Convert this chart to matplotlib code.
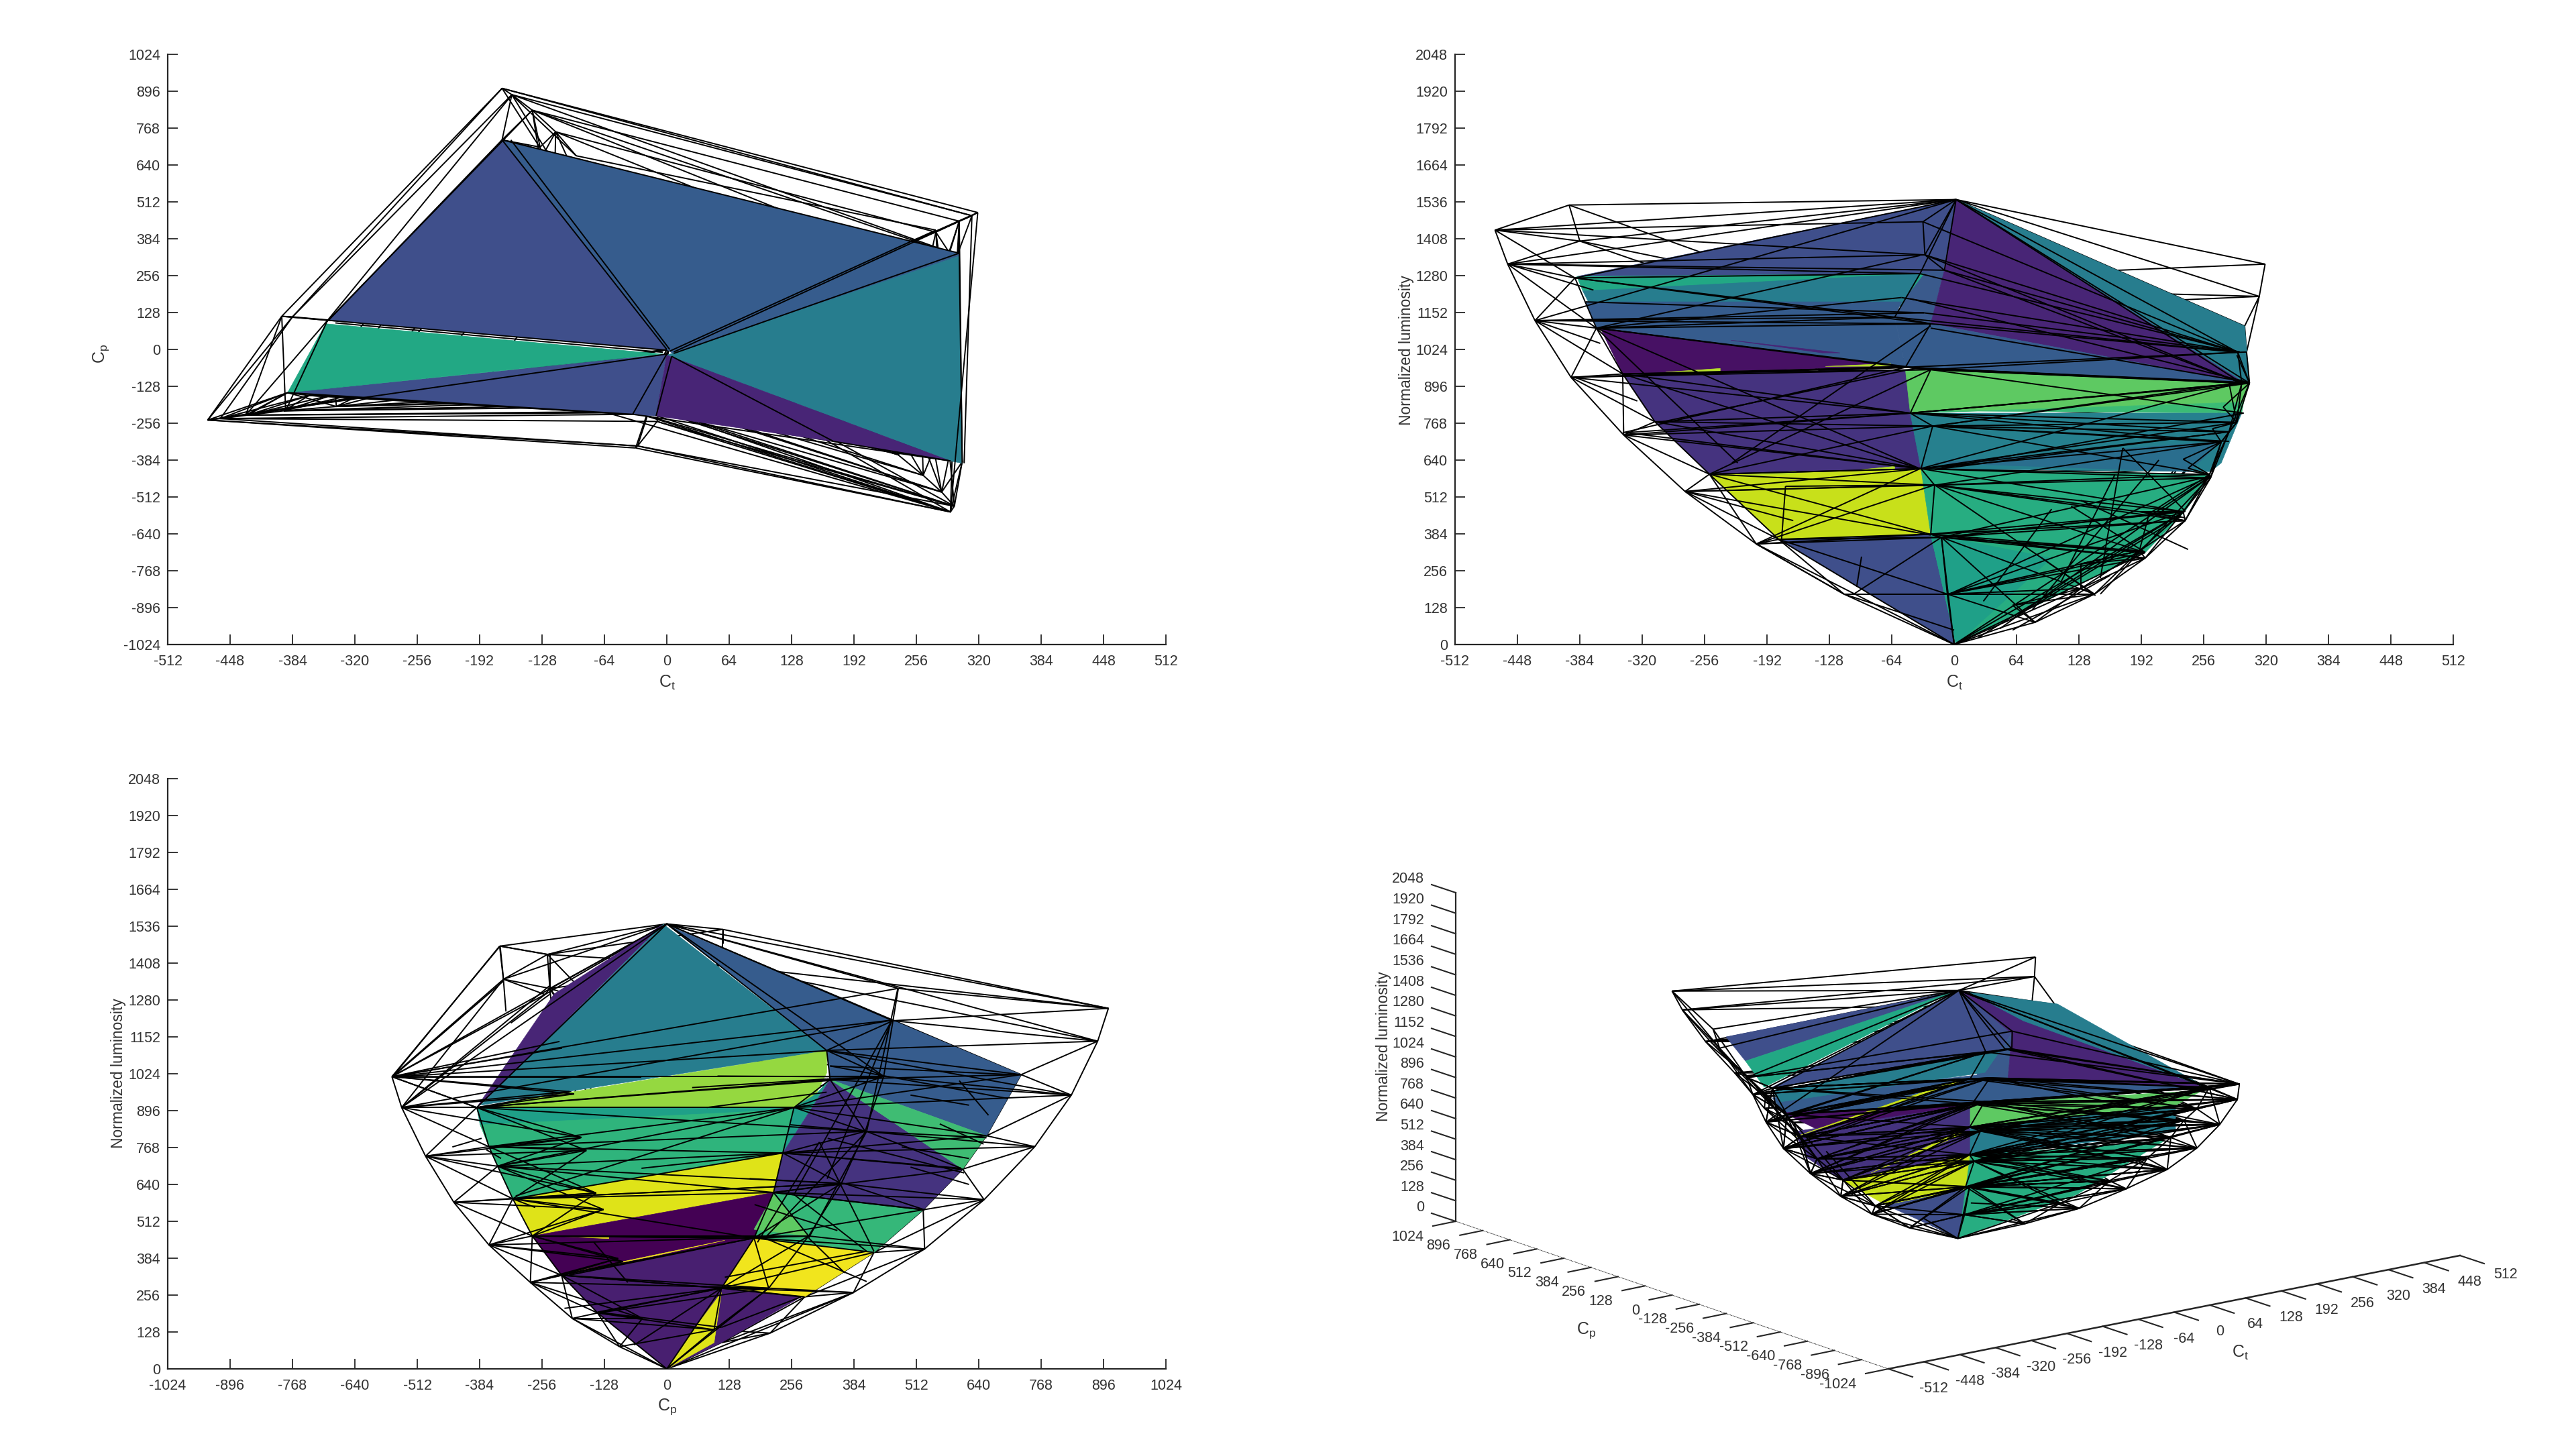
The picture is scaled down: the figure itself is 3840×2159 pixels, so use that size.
import matplotlib
matplotlib.use("Agg")
import matplotlib.pyplot as plt
from matplotlib.collections import LineCollection
from matplotlib.patches import Polygon

plt.rcParams['font.family'] = ['Liberation Sans', 'DejaVu Sans']
plt.rcParams['mathtext.default'] = 'regular'
plt.rcParams['axes.unicode_minus'] = False

W, H = 3840, 2159
ct_ticks = list(range(-512, 513, 64))
cp_ticks = list(range(-1024, 1025, 128))
lum_ticks = list(range(0, 2049, 128))

# (Ct, Cp, luminosity) of the mesh nodes, read from the three flat views
top = (2, 0, 1544)
black = (0, 0, 0)
out_red = [(83,-97,77),(144,-194,175),(196,-280,300),(237,-365,430),(263,-437,578),(282,-495,738),(295,-544,907),(291,-564,1014)]
out_a = [(-113,-70,175),(-203,-130,349),(-276,-175,531),(-339,-198,727),(-393,-213,927),(-430,-228,1124),(-458,-240,1320),(-471,-245,1438)]
out_blue = [(-32,212,124),(-58,383,265),(-80,529,416),(-100,651,587),(-114,755,771),(-138,830,950),(-159,884,1137),(-169,906,1251)]
out_c = [(60,97,136),(130,209,280),(190,291,461),(235,358,643),(276,407,824),(300,445,1015),(313,464,1208),(319,475,1320)]
out_d = [(-10,-250,1299),(-30,-335,1352),(-32,-342,1467)]
out_e = [(-384,113,1400),(-395,115,1525)]
in_l = [(-180,-85,365),(-251,-120,591),(-307,-145,773),(-340,-155,939),(-367,-160,1098),(-389,-150,1272)]
in_r = [(130,-142,194),(190,-216,325),(235,-276,461),(262,-316,590),(274,-347,703),(290,-365,771),(303,-390,907)]
in_b = [(-20,112,91),(-50,283,250),(-75,425,404),(-95,526,552),(-115,607,693),(-130,656,809),(-169,727,1021)]
in_c = [(130,112,280),(200,179,454),(240,219,612),(265,238,749),(282,261,907),(290,335,1004),(298,328,1105)]
in_d = [(-7,-50,175),(-13,-90,372),(-24,-100,383),(-20,-130,553),(-34,-145,610),(-22,-165,758),(-45,-175,803),(-24,-190,954),(-50,-200,962),(-24,-215,1113),(-61,-220,1136),(-35,-225,1287)]

# which curves are joined, and how far apart in luminosity a link may reach
links = [
    (out_red, in_r, 190), (out_a, in_l, 230), (out_blue, in_b, 190), (out_c, in_c, 190),
    (out_a, out_d, 120), (out_a, out_e, 130), (out_a, in_d, 130), (out_red, in_d, 130),
    (out_red, out_c, 60), (out_red, out_d, 460), (out_c, out_blue, 100), (out_blue, out_e, 290),
    (in_l, in_d, 170), (in_d, in_r, 170), (in_r, in_c, 150), (in_c, in_b, 150), (in_b, in_l, 100),
    (out_c, in_r, 120), (out_blue, in_c, 120),
]
links4 = [(out_red, in_d, 380), (in_r, in_d, 380), (out_a, in_l, 380), (in_l, in_d, 330), (out_a, in_d, 300)]
top_fan = [out_red[-1], out_red[-2], out_a[-1], out_a[-2], out_a[-3], out_e[0], out_e[1], out_blue[-1], out_blue[-2],
           out_c[-1], out_c[-2], out_c[-3], in_l[-1], in_r[-1], in_c[-1], in_b[-1], out_d[0], out_d[1], out_d[2], in_d[-1]]
bottom_fan = [out_red[0], out_red[1], out_a[0], out_a[1], out_blue[0], out_blue[1], out_c[0], out_c[1],
              in_l[0], in_r[0], in_b[0], in_c[0], in_d[0], in_d[1]]
curves = [out_red, out_a, out_blue, out_c, out_d, out_e, in_l, in_r, in_b, in_c, in_d]

# filled faces, one list per view
faces1 = [
    [(-169,727),(-347,101),(0,0)],
    [(-389,-150),(-35,-225),(-11,-231),(0,-16)],
    [(-169,727),(300,334),(300,324),(7,-16),(0,0)],
    [(0,-20),(300,324),(303,-395),(291,-387)],
    [(-350,89),(-4,-16),(-389,-150)],
    [(0,-20),(291,-387),(171,-319),(-11,-231)],
]
colors1 = ['#3f4f8b', '#3f4f8b', '#365c8d', '#277d8e', '#22a884', '#482576']
# lines lying on top of the faces, and the extra wires round the hull
over1 = [((-169,727),(0,0)),((-160,727),(3,0)),((300,445),(7,-9)),((276,414),(3,-6)),((300,334),(7,-14)),((-347,101),(0,-3)),
         ((-340,92),(-4,-10)),((0,-16),(-471,-245)),((0,-16),(-35,-225)),((5,-24),(-11,-231)),((5,-24),(171,-319)),
         ((171,-319),(291,-387)),((-389,-150),(-35,-225)),((-35,-225),(291,-387)),((-169,727),(300,334)),((-347,101),(-169,727)),
         ((-395,115),(-348,101)),((-159,883),(-348,101)),((-138,830),(-350,92)),((-395,115),(-432,-228)),((-395,115),(-391,-213)),
         ((-348,101),(-391,-213)),((-348,101),(-432,-228)),((-389,-150),(-432,-228)),((-389,-150),(-339,-198)),
         ((-159,883),(-93,672)),((-114,755),(-93,672)),((-138,830),(-130,702)),((-114,755),(-130,702)),((-169,727),(-130,702)),
         ((276,414),(-93,672)),((300,445),(300,334)),((319,475),(291,-564)),((313,464),(305,-395)),((300,334),(303,-395))]

faces2 = [
    [(2,1544),(-387,1277),(-31,1287),(-11,1295)],
    [(-35,1290),(-10,1299),(-24,1113),(-61,1136)],
    [(2,1544),(298,909),(-24,1113),(-10,1299)],
    [(2,1544),(298,1105),(303,909),(298,909)],
    [(-387,1277),(-31,1287),(-50,1204),(-381,1227)],
    [(-381,1227),(-35,1287),(-54,1174),(-374,1181)],
    [(-378,1189),(-54,1189),(-61,1136),(-50,962),(-367,1098)],
    [(-61,1136),(-24,1113),(298,909),(-24,954),(-50,962)],
    [(-363,1098),(-54,965),(-340,939)],
    [(-340,939),(-48,954),(-43,803),(-34,610),(-251,591),(-307,773)],
    [(-251,591),(-34,610),(-24,383),(-180,365)],
    [(-180,365),(-24,383),(-7,175),(0,0)],
    [(-24,954),(303,909),(297,841),(-45,803),(-50,954)],
    [(-45,803),(297,841),(295,803),(-22,811)],
    [(-45,803),(295,803),(274,630),(263,600),(-34,610)],
    [(-20,630),(241,600),(274,705)],
    [(-34,610),(263,591),(237,463),(196,319),(2,0),(-24,383)],
    [(-24,383),(100,300),(2,0)],
    [(-296,945),(-240,958),(-240,948)],
    [(-132,965),(-65,975),(-65,966)],
    [(-229,584),(-162,602),(-162,592)],
    [(-95,607),(-61,618),(-61,608)],
    [(-229,1056),(-117,1012),(-135,1012)],
]
colors2 = ['#3f4f8b', '#3a5a8c', '#482576', '#277d8e', '#22a884', '#277d8e', '#365c8d', '#365c8d', '#471164', '#45337f',
           '#c8e01a', '#3f4f8b', '#5ec962', '#3bbb75', '#26808e', '#2a6e8e', '#27ad81', '#1fa088',
           '#b5de2b', '#b5de2b', '#b5de2b', '#b5de2b', '#482576']
chords2 = [
    ((0,0),(263,584)),((0,0),(237,463)),((0,0),(196,319)),((-13,372),(263,584)),((-13,372),(237,463)),((-13,372),(196,319)),
    ((-5,175),(237,463)),((-5,175),(196,319)),((-5,175),(263,584)),((-20,554),(196,319)),((-20,554),(237,440)),((-20,554),(144,175)),
    ((-13,372),(144,175)),((-13,372),(83,77)),((173,682),(150,230)),((150,175),(263,584)),((47,55),(263,584)),((25,25),(237,463)),
    ((-251,591),(-35,610)),((-276,531),(-20,554)),((-276,531),(-165,430)),((-203,349),(-20,554)),((-177,365),(-173,549)),
    ((-203,349),(-35,610)),((-251,591),(-13,372)),((-276,531),(-24,380)),((-173,549),(-20,554)),((-337,735),(-35,610)),
    ((-337,735),(-45,803)),((-389,927),(-54,965)),((-389,927),(-325,845)),((-389,927),(-258,940)),((-299,773),(-35,962)),
    ((-251,591),(-24,954)),((-228,630),(-24,1106)),((-340,939),(-35,610)),((-340,735),(-50,962)),((-367,1098),(-35,610)),
    ((-367,1098),(-222,630)),((-430,1124),(-31,1151)),((-430,1124),(-363,1045)),((-458,1320),(-370,1230)),((-378,1189),(-31,1151)),
    ((-367,1098),(-35,1350)),((-367,1098),(-54,1204)),((-50,962),(303,909)),((-45,803),(303,909)),((-24,954),(297,803)),
    ((-20,758),(293,909)),((-35,610),(293,909)),((-20,758),(282,705)),((-20,607),(297,803)),((-20,607),(274,735)),
    ((-31,1151),(293,1015)),((-54,1204),(293,1015)),((-24,1098),(303,909)),((-35,1287),(293,1015)),((-45,1200),(303,909)),
    ((173,682),(237,463)),((-100,200),(-95,305)),((-103,175),(-13,372)),((-180,365),(-7,175)),((60,90),(233,445)),
    ((90,300),(145,170)),((120,480),(196,320)),((165,590),(110,220)),((210,640),(80,120)),((240,330),(130,500)),
    ((30,150),(100,470)),((60,50),(160,240)),((-203,349),(-113,175)),((-251,591),(-203,349)),((-113,175),(0,50)),
]

faces3 = [
    [(-10,1540),(-231,1301),(-390,907),(-350,968)],
    [(-7,1543),(-350,968),(-382,915),(328,1104)],
    [(7,1535),(727,1021),(656,809),(335,1004),(328,1104)],
    [(-390,907),(328,1104),(328,1027),(306,953),(261,907)],
    [(261,907),(306,953),(335,1006),(238,749)],
    [(-383,847),(-390,907),(261,907),(246,847)],
    [(-383,847),(261,900),(238,749),(-316,590),(-347,703),(-365,771)],
    [(-316,590),(238,749),(219,612),(-276,461)],
    [(-276,461),(219,612),(179,454),(-216,325)],
    [(-216,325),(179,454),(112,280),(276,250),(112,91),(0,0),(-142,194)],
    [(335,1004),(607,693),(526,552),(219,612),(238,749)],
    [(335,1004),(656,809),(607,693)],
    [(219,612),(526,552),(425,404),(179,454)],
    [(219,605),(291,461),(179,484)],
    [(179,454),(425,404),(283,250),(112,280)],
    [(45,113),(112,265),(97,91),(0,0)],
    [(-201,333),(119,446),(-22,393)],
    [(-246,462),(-119,458),(-119,452)],
]
colors3 = ['#482576', '#277d8e', '#365c8d', '#95d840', '#1f9e89', '#1fa088', '#2fb47c', '#dfe318', '#440154', '#481f70',
           '#45337f', '#3fbc73', '#35b779', '#5ec962', '#f1e51d', '#dfe318', '#f1e51d', '#f1e51d']
chords3 = [
    ((-544,907),(462,1210)),((-563,1013),(462,1210)),((-563,1013),(474,1320)),((-563,1013),(-52,1013)),((-563,1013),(328,1104)),
    ((328,1104),(830,950)),((335,1051),(708,1021)),((335,1051),(700,938)),((437,1013),(328,1006)),((104,1016),(437,1013)),
    ((52,976),(328,1006)),((82,907),(328,960)),((474,1320),(410,824)),((462,1210),(261,605)),((462,1210),(329,660)),
    ((-316,590),(238,749)),((-350,703),(261,907)),((-52,696),(238,749)),((261,907),(-310,600)),((604,696),(238,749)),
    ((410,824),(604,696)),((410,824),(656,802)),((410,824),(253,847)),((365,643),(529,552)),((365,643),(-316,590)),
    ((365,643),(170,660)),((313,787),(425,408)),((313,787),(186,439)),((410,824),(201,454)),((261,605),(410,408)),
    ((410,824),(291,454)),((201,454),(410,303)),((-276,461),(179,454)),((-201,325),(179,454)),((-216,325),(112,280)),
    ((-142,197),(112,280)),((-142,197),(112,144)),((-67,83),(112,280)),((291,454),(365,333)),((219,612),(529,552)),
    ((119,318),(410,408)),((112,280),(276,250)),((112,144),(276,250)),((-563,1013),(-390,907)),((-544,907),(-240,1330)),
    ((-343,1467),(-240,1437)),((-343,1467),(-335,1346)),((-240,1437),(-240,1300)),((-343,1467),(-563,1013)),((-335,1346),(-563,1013)),
    ((-330,1240),(-335,1346)),((-240,1300),(-320,1200)),((115,1525),(115,1476)),((-316,590),(-270,560)),((-340,730),(-370,760)),
    ((500,950),(620,915)),((600,1000),(660,880)),((560,850),(650,780)),((482,770),(620,730)),((500,700),(620,640)),
    ((-440,770),(-380,800)),((-210,210),(112,280)),((-150,440),(-80,300)),((180,570),(350,480)),((330,800),(610,680)),
]

# the perspective view is kept in reference pixel units
faces4 = [
    [(2573,1546),(2920,1477),(2602,1582)],
    [(2923,1477),(2636,1624),(2982,1565),(2999,1541)],
    [(2982,1565),(2999,1541),(2993,1612),(2948,1599),(2959,1599)],
    [(2908,1480),(2602,1582),(2630,1621)],
    [(2923,1477),(3283,1621),(2993,1612),(2999,1541)],
    [(2937,1480),(3067,1497),(3288,1621),(3016,1522)],
    [(2988,1612),(3283,1621),(2937,1646),(2948,1599)],
    [(2642,1637),(2982,1599),(2937,1648),(2664,1665)],
    [(2642,1626),(2982,1566),(2959,1599),(2653,1643)],
    [(2659,1659),(2937,1648),(2721,1690)],
    [(2676,1687),(2937,1648),(2937,1723),(2744,1759),(2693,1726)],
    [(2744,1759),(2937,1723),(2937,1772),(2812,1797)],
    [(2812,1797),(2937,1772),(2920,1846)],
    [(2937,1646),(3283,1626),(3243,1648),(2937,1681)],
    [(2937,1681),(3243,1648),(3243,1687),(2982,1720),(2937,1723)],
    [(2937,1723),(3226,1701),(3096,1781),(2920,1846)],
    [(2676,1695),(2925,1608),(2925,1614)],
    [(2789,1749),(2925,1685),(2925,1691)],
]
colors4 = ['#3f4f8b', '#3f4f8b', '#3a5a8c', '#22a884', '#482576', '#277d8e', '#365c8d', '#365c8d', '#277d8e', '#471164',
           '#45337f', '#c8e01a', '#3f4f8b', '#5ec962', '#277d8e', '#27ad81', '#c8e01a', '#c8e01a']

INK = '#262626'
TXT = '#333333'


def join(pairs):
    out = []
    for a, b, reach in pairs:
        for p in a:
            for q in b:
                if abs(p[2] - q[2]) < reach:
                    out.append((p, q))
    return out


edges = []
for c in curves:
    edges += list(zip(c[:-1], c[1:]))
edges += join(links)
edges += [(top, p) for p in top_fan] + [(black, p) for p in bottom_fan]
edges4 = edges + join(links4)


def frac_box(x0, x1, y0, y1):
    return [x0 / W, 1 - y1 / H, (x1 - x0) / W, (y1 - y0) / H]


def flat_panel(box, xt, yt, xlab, ylab, ylab_x, xlab_x, xlab_y):
    ax = fig.add_axes(frac_box(*box))
    ax.set_xlim(xt[0], xt[-1])
    ax.set_ylim(yt[0], yt[-1])
    ax.set_xticks(xt)
    ax.set_yticks(yt)
    ax.spines[['top', 'right']].set_visible(False)
    ax.spines[['left', 'bottom']].set_linewidth(1.6)
    ax.spines[['left', 'bottom']].set_color(INK)
    ax.tick_params(axis='x', direction='in', length=11, width=1.3, color=INK, labelsize=15.5, pad=11, labelcolor=TXT)
    ax.tick_params(axis='y', direction='in', length=11, width=1.3, color=INK, labelsize=15.5, pad=8, labelcolor=TXT)
    fig.text(xlab_x / W, 1 - xlab_y / H, xlab, fontsize=18, color=TXT, ha='center', va='center')
    fig.text(ylab_x[0] / W, 1 - ylab_x[1] / H, ylab, fontsize=16.5 if len(ylab) > 6 else 18, color=TXT,
             rotation=90, ha='center', va='center')
    return ax


def draw_wire(ax, pick, front, over_lines=(), mesh=None):
    back_s, front_s = [], []
    for p, q in (mesh or edges):
        seg = [pick(p), pick(q)]
        (front_s if front(p, q) else back_s).append(seg)
    ax.add_collection(LineCollection(back_s, colors='black', linewidths=1.4, zorder=1))
    ax.add_collection(LineCollection(front_s + list(over_lines), colors='black', linewidths=1.4, zorder=3))


def draw_faces(ax, faces, colors):
    for f, col in zip(faces, colors):
        ax.add_patch(Polygon(f, closed=True, facecolor=col, edgecolor=col, linewidth=0.5, zorder=2))


fig = plt.figure(figsize=(W / 100, H / 100), dpi=100, facecolor='white')

ax1 = flat_panel((250, 1738, 81, 961), ct_ticks, cp_ticks, r'C$_t$', r'C$_p$', (151, 527), 995, 1018)
draw_faces(ax1, faces1, colors1)
draw_wire(ax1, lambda n: (n[0], n[1]), lambda p, q: False, over1)

ax2 = flat_panel((2169, 3657, 81, 961), ct_ticks, lum_ticks, r'C$_t$', 'Normalized luminosity', (2097, 522), 2914, 1018)
draw_faces(ax2, faces2, colors2)
draw_wire(ax2, lambda n: (n[0], n[2]), lambda p, q: p[1] + q[1] < 60, chords2)

ax3 = flat_panel((250, 1738, 1161, 2041), cp_ticks, lum_ticks, r'C$_p$', 'Normalized luminosity', (176, 1600), 995, 2098)
draw_faces(ax3, faces3, colors3)
draw_wire(ax3, lambda n: (n[1], n[2]), lambda p, q: p[0] + q[0] > 40, chords3)

# perspective panel: a plain axes in pixel units, mesh nodes projected onto it
origin = (2815, 2041)
ct_step = (852 / 1024, -169 / 1024)
cp_step = (-645 / 2048, -220 / 2048)
lum_step = (0, -490 / 2048)


def project(ct, cp, lum):
    x = origin[0] + (ct + 512) * ct_step[0] + (cp + 1024) * cp_step[0] + lum * lum_step[0]
    y = origin[1] + (ct + 512) * ct_step[1] + (cp + 1024) * cp_step[1] + lum * lum_step[1]
    return x, y


ax4 = fig.add_axes([0, 0, 1, 1])
ax4.set_xlim(0, W)
ax4.set_ylim(H, 0)
ax4.axis('off')
ax4.patch.set_alpha(0)
draw_faces(ax4, faces4, colors4)
draw_wire(ax4, lambda n: project(*n), lambda p, q: p[1] + q[1] + p[0] + q[0] < 120, mesh=edges4)

ct_a, ct_b = project(-512, -1024, 0), project(512, -1024, 0)
cp_a, cp_b = project(-512, -1024, 0), project(-512, 1024, 0)
z_a, z_b = project(-512, 1024, 0), project(-512, 1024, 2048)
ax4.plot([ct_a[0], ct_b[0]], [ct_a[1], ct_b[1]], color=INK, lw=1.8, zorder=4)
ax4.plot([z_a[0], z_b[0]], [z_a[1], z_b[1]], color=INK, lw=1.6, zorder=4)
ax4.plot([cp_a[0], cp_b[0]], [cp_a[1], cp_b[1]], color=INK, lw=0.7, ls=(0, (1.5, 0.8)), zorder=4)
for v in ct_ticks:
    x, y = project(v, -1024, 0)
    ax4.plot([x, x + 36], [y, y + 12], color=INK, lw=1.5, zorder=4)
    ax4.text(x + 68, y + 29, str(v), fontsize=15.5, color=TXT, ha='center', va='center')
for v in cp_ticks:
    x, y = project(-512, v, 0)
    ax4.plot([x, x - 34], [y, y + 7], color=INK, lw=1.5, zorder=4)
    ax4.text(x - 48, y + 23, str(v), fontsize=15.5, color=TXT, ha='right', va='center')
for v in lum_ticks:
    x, y = project(-512, 1024, v)
    ax4.plot([x, x - 36], [y, y - 12], color=INK, lw=1.5, zorder=4)
    ax4.text(x - 47, y - 20, str(v), fontsize=15.5, color=TXT, ha='right', va='center')
ax4.text(2063, 1560, 'Normalized luminosity', fontsize=16.5, color=TXT, rotation=90, ha='center', va='center')
ax4.text(2365, 1984, r'C$_p$', fontsize=18, color=TXT, ha='center', va='center')
ax4.text(3340, 2017, r'C$_t$', fontsize=18, color=TXT, ha='center', va='center')

fig.savefig('out.png', dpi=100, facecolor='white')
